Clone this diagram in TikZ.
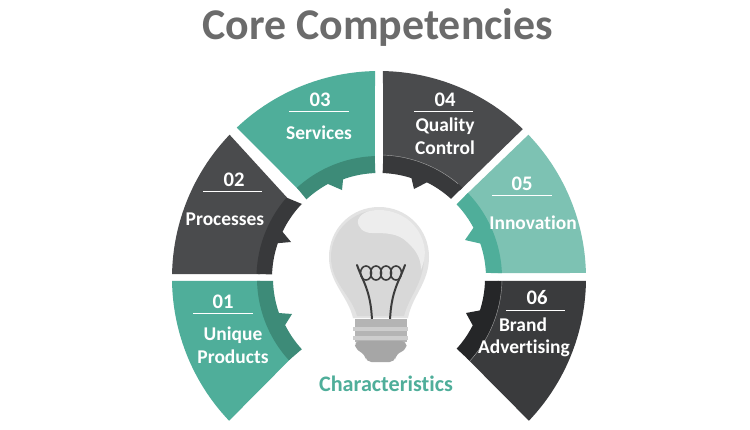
\documentclass[tikz,border=0pt]{standalone}
\usepackage{fontspec}
\setmainfont[Ligatures=NoCommon]{Carlito}
\definecolor{teal}{HTML}{4FAE9A}
\definecolor{tealband}{HTML}{3D8B78}
\definecolor{lteal}{HTML}{7DC2B3}
\definecolor{gr}{HTML}{4A4B4D}
\definecolor{grband}{HTML}{38393B}
\definecolor{dk}{HTML}{3A3B3D}
\definecolor{dkband}{HTML}{252628}
\definecolor{titlec}{HTML}{6B6B6B}
\definecolor{glass}{HTML}{D8D8D8}
\definecolor{glassl}{HTML}{EDEDED}
\definecolor{rim}{HTML}{E3E3E3}
\definecolor{wire}{HTML}{3C3C3C}
\definecolor{basec}{HTML}{B4B4B4}
\definecolor{basel}{HTML}{CDCDCD}
\definecolor{capc}{HTML}{A6A6A6}
\newcommand{\Ring}[7]{\fill[#1,line join=round]
  plot[domain=#3:#4,samples=40] ({379+#2*cos(\x)},{278+#2*sin(\x)})
  -- plot[domain=#6:#7,samples=40] ({379+#5*cos(\x)},{278+#5*sin(\x)}) -- cycle;}
\tikzset{
  lab/.style={text=white,font=\bfseries\fontsize{14.6}{17}\selectfont,inner sep=0pt,align=center},
  num/.style={text=white,font=\bfseries\fontsize{15.5}{18}\selectfont,inner sep=0pt},
  rule/.style={draw=white,line width=0.6pt},
  seam/.style={draw=white!65!black,line width=0.3pt}
}
\begin{document}
\begin{tikzpicture}[x=0.75pt,y=-0.75pt]
\useasboundingbox (0,0) rectangle (750,429);
\fill[white] (0,0) rectangle (750,429);
% segment 03
\Ring{teal}{207}{226.6}{268.9}{119}{268}{227.7}
\fill[tealband] plot[domain=227.7:268,samples=40] ({379+122*cos(\x)},{278+122*sin(\x)}) -- plot[domain=268:250,samples=20] ({379+105*cos(\x)},{278+105*sin(\x)}) -- (342,190) -- plot[domain=241.5:227.3,samples=20] ({379+107*cos(\x)},{278+107*sin(\x)}) -- cycle;
% segment 04
\Ring{gr}{207}{271.1}{314}{119}{312.7}{272}
\fill[grband] plot[domain=312.7:272,samples=40] ({379+123*cos(\x)},{278+123*sin(\x)}) -- plot[domain=272:288,samples=20] ({379+105*cos(\x)},{278+105*sin(\x)}) -- (414,189) -- plot[domain=296.6:312.3,samples=20] ({379+107*cos(\x)},{278+107*sin(\x)}) -- cycle;
\draw[seam] plot[domain=272:310,samples=30] ({379+123*cos(\x)},{278+123*sin(\x)});
% segment 02
\Ring{gr}{207}{181.1}{223.8}{119}{221}{181.9}
\fill[grband] plot[domain=181.9:221,samples=40] ({379+122.5*cos(\x)},{278+122.5*sin(\x)}) -- (302,204) -- plot[domain=223.9:205.6,samples=20] ({379+107*cos(\x)},{278+107*sin(\x)}) -- (291,242) -- plot[domain=199:181.9,samples=20] ({379+107*cos(\x)},{278+107*sin(\x)}) -- cycle;
% segment 01
\Ring{teal}{207}{179.2}{136.4}{119}{137.6}{178.6}
\fill[tealband] plot[domain=178.6:137.6,samples=40] ({379+122*cos(\x)},{278+122*sin(\x)}) -- plot[domain=137.3:153.4,samples=20] ({379+105*cos(\x)},{278+105*sin(\x)}) -- (292,314) -- plot[domain=160.7:178.4,samples=20] ({379+106*cos(\x)},{278+106*sin(\x)}) -- cycle;
% segment 05
\Ring{lteal}{207}{316.2}{358.6}{119}{357.7}{316.3}
\fill[teal] plot[domain=316.3:357.7,samples=40] ({379+123*cos(\x)},{278+123*sin(\x)}) -- plot[domain=357.3:341.2,samples=20] ({379+107*cos(\x)},{278+107*sin(\x)}) -- (465,240) -- plot[domain=332:316.5,samples=20] ({379+107*cos(\x)},{278+107*sin(\x)}) -- cycle;
% segment 06
\Ring{dk}{207}{0.8}{43.6}{119}{42.4}{1.4}
\fill[dkband] plot[domain=1.4:42.4,samples=40] ({379+123*cos(\x)},{278+123*sin(\x)}) -- plot[domain=42.3:26.8,samples=20] ({379+105*cos(\x)},{278+105*sin(\x)}) -- (466,313) -- plot[domain=17.8:1.6,samples=20] ({379+106*cos(\x)},{278+106*sin(\x)}) -- cycle;
\draw[seam] plot[domain=1.4:42.4,samples=30] ({379+123*cos(\x)},{278+123*sin(\x)});
% bulb glass
\fill[rim] (379,207) .. controls (407,207) and (429,229) .. (429,257)
  .. controls (429,283) and (412,296) .. (408,318) -- (353,318)
  .. controls (348,296) and (329,283) .. (329,257)
  .. controls (329,229) and (351,207) .. (379,207) -- cycle;
\fill[glass] (379,210) .. controls (405,210) and (424,231) .. (424,257)
  .. controls (424,283) and (409,296) .. (404,316) -- (357,316)
  .. controls (352,296) and (331,283) .. (331,257)
  .. controls (331,231) and (353,210) .. (379,210) -- cycle;
\fill[glassl] (358,220) .. controls (362,211) and (372,210) .. (380,210)
  .. controls (396,210) and (418,220) .. (424,245)
  .. controls (426,255) and (424,262) .. (421,270)
  .. controls (421,258) and (416,250) .. (407,242)
  .. controls (398,233) and (385,233) .. (372,233)
  .. controls (364,233) and (357,228) .. (358,220) -- cycle;
% filament
\draw[wire,line width=1.5pt,line cap=round] (357,265) .. controls (362,280) and (371,290) .. (372,321);
\draw[wire,line width=1.5pt,line cap=round] (405,265) .. controls (400,280) and (391,290) .. (390,321);
\foreach \c in {366,376,386,396}
  \draw[wire,line width=1.2pt] (\c,273) ellipse [x radius=5.5,y radius=7];
% screw base
\fill[basec] (355,319) rectangle (407,342);
\fill[basel] (353,327) rectangle (408,331);
\fill[basel] (353,336) rectangle (408,340);
\fill[capc,rounded corners=4pt] (354,341) -- (407,341) -- (406,350) -- (396,354) -- (395,362) -- (366,362) -- (365,354) -- (356,350) -- cycle;
% rules
\draw[rule] (193,313) -- (253,313);
\draw[rule] (203,191) -- (262,191);
\draw[rule] (289,111) -- (349,111);
\draw[rule] (414,111) -- (473,111);
\draw[rule] (492,195) -- (552,195);
\draw[rule] (506,310) -- (565,310);
% text
\node[text=titlec,font=\bfseries\fontsize{32.9}{38}\selectfont,inner sep=0pt] (title) at (378,28) {Core Competencies};
\node[num] (n1) at (223,302) {01};
\node[lab] (l1) at (233,345) {Unique\\[0.5pt]Products};
\node[num] (n2) at (234,180) {02};
\node[lab] (l2) at (225,219) {Processes};
\node[num] (n3) at (320,100) {03};
\node[lab] (l3) at (319,133) {Services};
\node[num] (n4) at (445,100) {04};
\node[lab] (l4) at (445,136) {Quality\\[0.5pt]Control};
\node[num] (n5) at (522,184) {05};
\node[lab] (l5) at (533,223) {Innovation};
\node[num] (n6) at (537,298) {06};
\node[lab] (l6a) at (523,325) {Brand};
\node[lab] (l6b) at (524,348) {Advertising};
\node[text=teal,font=\bfseries\fontsize{16.6}{20}\selectfont,inner sep=0pt] (char) at (386,384) {Characteristics};
\end{tikzpicture}
\end{document}
